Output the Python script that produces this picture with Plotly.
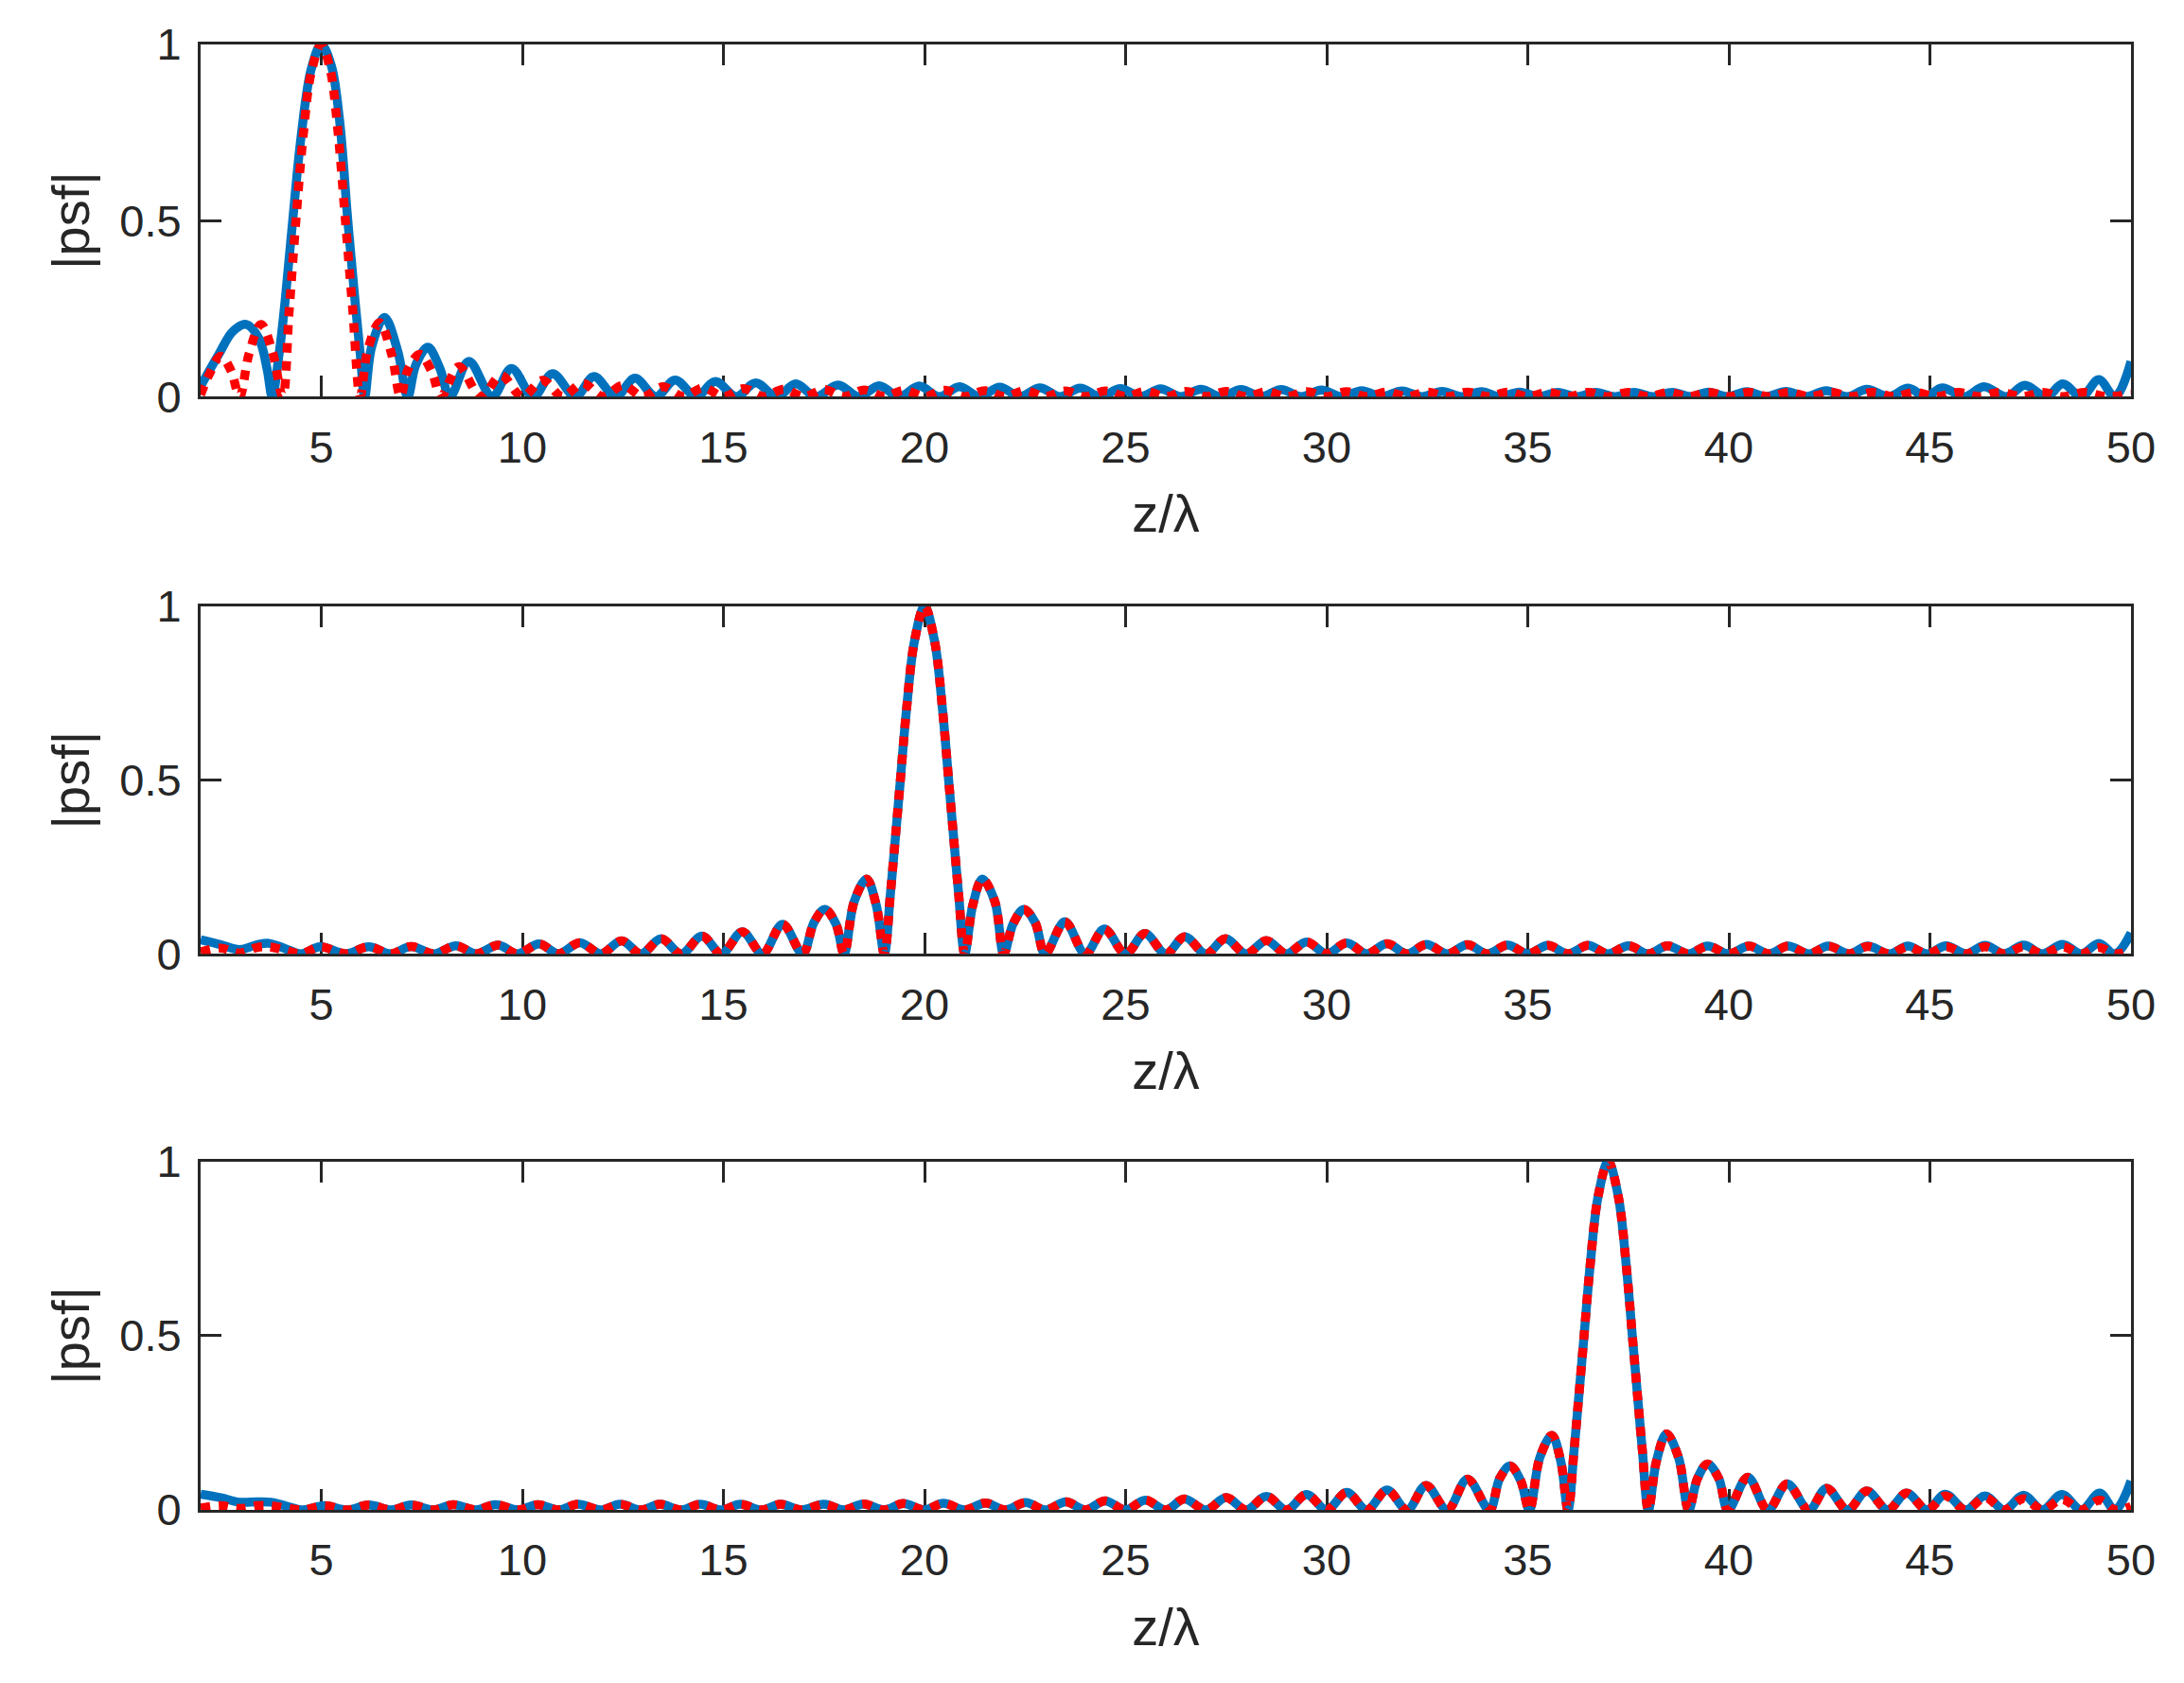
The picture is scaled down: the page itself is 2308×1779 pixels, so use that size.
import plotly.graph_objects as go

# ---------------- data (z/lambda, |psf|) ----------------
blue_top = [
    (2.0, 0.03), (2.45, 0.12), (2.8, 0.185), (3.13, 0.205), (3.45, 0.165), (3.65, 0.08), (3.78, 0.0),
    (3.95, 0.12), (4.1, 0.27), (4.29, 0.5), (4.5, 0.74), (4.75, 0.93), (5.0, 1.0), (5.25, 0.94),
    (5.45, 0.79), (5.66, 0.5), (5.85, 0.26), (5.97, 0.12), (6.08, 0.0),
    (6.25, 0.14), (6.57, 0.225), (6.9, 0.13), (7.15, 0.0),
    (7.35, 0.09), (7.65, 0.14), (7.95, 0.08), (8.2, 0.0),
    (8.67, 0.10), (9.25, 0.0), (9.73, 0.08), (10.27, 0.0), (10.75, 0.065), (11.32, 0.0), (11.78, 0.057),
    (12.32, 0.0), (12.8, 0.052), (13.32, 0.0), (13.8, 0.047), (14.32, 0.0), (14.8, 0.043), (15.32, 0.0),
    (15.8, 0.039), (16.32, 0.0), (16.8, 0.036), (17.3, 0.0), (17.85, 0.033), (18.37, 0.0), (18.87, 0.031),
    (19.37, 0.0), (19.87, 0.03), (20.37, 0.0), (20.87, 0.028), (21.37, 0.0), (21.87, 0.027), (22.37, 0.0),
    (22.87, 0.025), (23.37, 0.0), (23.87, 0.024), (24.37, 0.0), (24.87, 0.023), (25.37, 0.0), (25.87, 0.022),
    (26.37, 0.0), (26.87, 0.021), (27.37, 0.0), (27.87, 0.02), (28.37, 0.0), (28.87, 0.02), (29.37, 0.0),
    (29.87, 0.019), (30.37, 0.0), (30.87, 0.017), (31.37, 0.0), (31.87, 0.016), (32.37, 0.0), (32.87, 0.015),
    (33.35, 0.0), (33.85, 0.014), (34.3, 0.0), (34.8, 0.013), (35.25, 0.0), (35.75, 0.012), (36.2, 0.0),
    (36.7, 0.012), (37.15, 0.0), (37.65, 0.012), (38.1, 0.0), (38.6, 0.012), (39.05, 0.0), (39.5, 0.013),
    (39.95, 0.0), (40.45, 0.014), (40.93, 0.0), (41.42, 0.015), (41.92, 0.0), (42.42, 0.017), (42.95, 0.0),
    (43.43, 0.021), (43.97, 0.0), (44.46, 0.024), (44.9, 0.0), (45.3, 0.025), (45.87, 0.0), (46.34, 0.028),
    (46.9, 0.0), (47.36, 0.032), (47.9, 0.0), (48.3, 0.036), (48.77, 0.0), (49.2, 0.048), (49.6, 0.0),
    (50.0, 0.1),
]

red_top = [
    (2.0, 0.005), (2.2, 0.06), (2.5, 0.115), (2.75, 0.075), (2.97, 0.0), (3.2, 0.12), (3.5, 0.205),
    (3.78, 0.13), (4.04, 0.0),
    (4.2, 0.24), (4.37, 0.5), (4.55, 0.74), (4.75, 0.92), (5.0, 1.0), (5.22, 0.93), (5.4, 0.77),
    (5.6, 0.5), (5.78, 0.25), (5.97, 0.0),
    (6.15, 0.13), (6.45, 0.21), (6.75, 0.12), (6.97, 0.0),
    (7.15, 0.075), (7.45, 0.12), (7.75, 0.07), (7.98, 0.0),
    (8.42, 0.085), (8.97, 0.0), (9.47, 0.06), (10.0, 0.0), (10.5, 0.046), (11.0, 0.0), (11.5, 0.038),
    (12.0, 0.0), (12.5, 0.032), (13.0, 0.0), (13.5, 0.028), (14.0, 0.0), (14.5, 0.025), (15.0, 0.0),
    (15.5, 0.023), (16.0, 0.0), (16.5, 0.021), (17.0, 0.0), (17.5, 0.02), (18.0, 0.0), (18.5, 0.019),
    (19.0, 0.0), (19.5, 0.018), (20.0, 0.0), (20.5, 0.018), (21.0, 0.0), (21.5, 0.017), (22.0, 0.0),
    (22.5, 0.017), (23.0, 0.0), (23.5, 0.016), (24.0, 0.0), (24.5, 0.016), (25.0, 0.0), (25.5, 0.015),
    (26.0, 0.0), (26.5, 0.015), (27.0, 0.0), (27.5, 0.015), (28.0, 0.0), (28.5, 0.014), (29.0, 0.0),
    (29.5, 0.014), (30.0, 0.0), (30.5, 0.014), (31.0, 0.0), (31.5, 0.013), (32.0, 0.0), (32.5, 0.013),
    (33.0, 0.0), (33.5, 0.013), (34.0, 0.0), (34.5, 0.013), (35.0, 0.0), (35.5, 0.012), (36.0, 0.0),
    (36.5, 0.012), (37.0, 0.0), (37.5, 0.012), (38.0, 0.0), (38.5, 0.012), (39.0, 0.0), (39.5, 0.012),
    (40.0, 0.0), (40.5, 0.012), (41.0, 0.0), (41.5, 0.012), (42.02, 0.0), (42.55, 0.012), (43.05, 0.0),
    (43.57, 0.012), (44.1, 0.0), (44.63, 0.012), (45.17, 0.0), (45.7, 0.012), (46.2, 0.0), (46.75, 0.012),
    (47.3, 0.0), (47.8, 0.012), (48.3, 0.0), (48.85, 0.012), (49.4, 0.0), (50.0, 0.008),
]

blue_mid = [
    (2.0, 0.04), (2.5, 0.026), (2.97, 0.012), (3.4, 0.026), (3.7, 0.03), (4.1, 0.015), (4.5, 0.0),
    (4.97, 0.02), (5.62, 0.0), (6.18, 0.02), (6.73, 0.0), (7.23, 0.021), (7.8, 0.0), (8.35, 0.023),
    (8.85, 0.0), (9.4, 0.025), (9.88, 0.0), (10.42, 0.028), (10.9, 0.0), (11.43, 0.032), (11.95, 0.0),
    (12.47, 0.037), (12.95, 0.0), (13.45, 0.043), (13.95, 0.0), (14.47, 0.051), (14.95, 0.0),
    (15.47, 0.063), (15.97, 0.0), (16.47, 0.085), (16.97, 0.0), (17.25, 0.09), (17.52, 0.128),
    (17.8, 0.085), (18.0, 0.0), (18.25, 0.15), (18.56, 0.215), (18.8, 0.14), (19.0, 0.0),
    (19.15, 0.17), (19.25, 0.30), (19.4, 0.5), (19.55, 0.70), (19.75, 0.90), (20.0, 1.0),
    (20.25, 0.90), (20.45, 0.70), (20.6, 0.5), (20.75, 0.30), (20.85, 0.17), (21.0, 0.0),
    (21.2, 0.14), (21.44, 0.215), (21.75, 0.15), (21.97, 0.0), (22.2, 0.085), (22.47, 0.128),
    (22.75, 0.09), (23.0, 0.0), (23.49, 0.092), (24.0, 0.0), (24.47, 0.071), (25.0, 0.0),
    (25.48, 0.058), (26.0, 0.0), (26.47, 0.049), (27.0, 0.0), (27.48, 0.043), (28.0, 0.0),
    (28.5, 0.038), (29.0, 0.0), (29.5, 0.034), (30.0, 0.0), (30.5, 0.031), (31.0, 0.0), (31.5, 0.029),
    (32.0, 0.0), (32.48, 0.027), (33.0, 0.0), (33.5, 0.026), (34.0, 0.0), (34.5, 0.025), (35.0, 0.0),
    (35.5, 0.024), (36.0, 0.0), (36.5, 0.024), (37.0, 0.0), (37.5, 0.023), (38.0, 0.0), (38.47, 0.023),
    (39.0, 0.0), (39.47, 0.022), (40.0, 0.0), (40.5, 0.022), (41.0, 0.0), (41.47, 0.022), (42.0, 0.0),
    (42.47, 0.022), (43.0, 0.0), (43.45, 0.022), (44.0, 0.0), (44.45, 0.022), (44.93, 0.0),
    (45.4, 0.023), (45.9, 0.0), (46.37, 0.024), (46.85, 0.0), (47.33, 0.025), (47.8, 0.0),
    (48.3, 0.027), (48.77, 0.0), (49.2, 0.03), (49.6, 0.0), (50.0, 0.06),
]

red_mid = [
    (2.0, 0.005), (2.5, 0.016), (2.97, 0.002), (3.4, 0.018), (3.7, 0.02), (4.1, 0.01), (4.5, 0.0),
    (4.97, 0.02), (5.62, 0.0), (6.18, 0.02), (6.73, 0.0), (7.23, 0.021), (7.8, 0.0), (8.35, 0.023),
    (8.85, 0.0), (9.4, 0.025), (9.88, 0.0), (10.42, 0.028), (10.9, 0.0), (11.43, 0.032), (11.95, 0.0),
    (12.47, 0.037), (12.95, 0.0), (13.45, 0.043), (13.95, 0.0), (14.47, 0.051), (14.95, 0.0),
    (15.47, 0.063), (15.97, 0.0), (16.47, 0.085), (16.97, 0.0), (17.25, 0.09), (17.52, 0.128),
    (17.8, 0.085), (18.0, 0.0), (18.25, 0.15), (18.56, 0.215), (18.8, 0.14), (19.0, 0.0),
    (19.15, 0.17), (19.25, 0.30), (19.4, 0.5), (19.55, 0.70), (19.75, 0.90), (20.0, 1.0),
    (20.25, 0.90), (20.45, 0.70), (20.6, 0.5), (20.75, 0.30), (20.85, 0.17), (21.0, 0.0),
    (21.2, 0.14), (21.44, 0.215), (21.75, 0.15), (21.97, 0.0), (22.2, 0.085), (22.47, 0.128),
    (22.75, 0.09), (23.0, 0.0), (23.49, 0.092), (24.0, 0.0), (24.47, 0.071), (25.0, 0.0),
    (25.48, 0.058), (26.0, 0.0), (26.47, 0.049), (27.0, 0.0), (27.48, 0.043), (28.0, 0.0),
    (28.5, 0.038), (29.0, 0.0), (29.5, 0.034), (30.0, 0.0), (30.5, 0.031), (31.0, 0.0), (31.5, 0.029),
    (32.0, 0.0), (32.48, 0.027), (33.0, 0.0), (33.5, 0.026), (34.0, 0.0), (34.5, 0.025), (35.0, 0.0),
    (35.5, 0.024), (36.0, 0.0), (36.5, 0.024), (37.0, 0.0), (37.5, 0.023), (38.0, 0.0), (38.47, 0.023),
    (39.0, 0.0), (39.47, 0.022), (40.0, 0.0), (40.5, 0.022), (41.0, 0.0), (41.47, 0.022), (42.0, 0.0),
    (42.47, 0.022), (43.0, 0.0), (43.45, 0.021), (44.0, 0.0), (44.45, 0.02), (44.93, 0.0),
    (45.4, 0.02), (45.9, 0.0), (46.37, 0.02), (46.85, 0.0), (47.33, 0.02), (47.8, 0.0),
    (48.3, 0.02), (48.77, 0.0), (49.2, 0.018), (49.6, 0.0), (50.0, 0.01),
]

blue_bot = [
    (2.0, 0.045), (2.5, 0.035), (2.97, 0.022), (3.4, 0.023), (3.75, 0.022), (4.1, 0.012), (4.55, 0.0),
    (5.07, 0.012), (5.65, 0.0), (6.18, 0.014), (6.75, 0.0), (7.23, 0.014), (7.8, 0.0), (8.28, 0.015),
    (8.85, 0.0), (9.33, 0.015), (9.9, 0.0), (10.38, 0.015), (10.9, 0.0), (11.38, 0.016), (11.95, 0.0),
    (12.43, 0.016), (12.95, 0.0), (13.42, 0.016), (13.95, 0.0), (14.42, 0.016), (14.95, 0.0),
    (15.42, 0.016), (15.95, 0.0), (16.42, 0.016), (16.94, 0.0), (17.5, 0.016), (18.0, 0.0),
    (18.48, 0.017), (19.0, 0.0), (19.47, 0.018), (20.0, 0.0), (20.47, 0.019), (21.0, 0.0),
    (21.52, 0.02), (22.0, 0.0), (22.52, 0.021), (23.0, 0.0), (23.52, 0.023), (24.0, 0.0),
    (24.49, 0.026), (25.0, 0.0), (25.49, 0.028), (26.0, 0.0), (26.46, 0.031), (27.0, 0.0),
    (27.5, 0.035), (28.0, 0.0), (28.5, 0.039), (29.0, 0.0), (29.5, 0.044), (30.0, 0.0), (30.5, 0.05),
    (31.0, 0.0), (31.5, 0.057), (32.0, 0.0), (32.47, 0.07), (33.0, 0.0), (33.5, 0.088), (34.05, 0.0),
    (34.3, 0.09), (34.56, 0.126), (34.82, 0.085), (35.04, 0.0), (35.3, 0.15), (35.6, 0.214),
    (35.82, 0.14), (36.0, 0.0),
    (36.15, 0.17), (36.25, 0.3), (36.4, 0.5), (36.55, 0.7), (36.75, 0.9), (37.0, 1.0), (37.25, 0.9),
    (37.45, 0.7), (37.6, 0.5), (37.75, 0.3), (37.85, 0.17), (38.0, 0.0),
    (38.2, 0.14), (38.45, 0.218), (38.75, 0.15), (39.0, 0.0), (39.22, 0.09), (39.47, 0.132),
    (39.75, 0.09), (39.98, 0.0), (40.47, 0.094), (40.97, 0.0), (41.45, 0.075), (41.99, 0.0),
    (42.43, 0.062), (42.95, 0.0), (43.43, 0.054), (43.95, 0.0), (44.42, 0.048), (44.93, 0.0),
    (45.38, 0.045), (45.89, 0.0), (46.37, 0.04), (46.85, 0.0), (47.33, 0.042), (47.8, 0.0),
    (48.28, 0.044), (48.77, 0.0), (49.22, 0.048), (49.6, 0.0), (50.0, 0.083),
]

red_bot = [
    (2.0, 0.005), (2.5, 0.012), (2.97, 0.004), (3.4, 0.012), (3.75, 0.012), (4.1, 0.006), (4.55, 0.0),
    (5.07, 0.012), (5.65, 0.0), (6.18, 0.014), (6.75, 0.0), (7.23, 0.014), (7.8, 0.0), (8.28, 0.015),
    (8.85, 0.0), (9.33, 0.015), (9.9, 0.0), (10.38, 0.015), (10.9, 0.0), (11.38, 0.016), (11.95, 0.0),
    (12.43, 0.016), (12.95, 0.0), (13.42, 0.016), (13.95, 0.0), (14.42, 0.016), (14.95, 0.0),
    (15.42, 0.016), (15.95, 0.0), (16.42, 0.016), (16.94, 0.0), (17.5, 0.016), (18.0, 0.0),
    (18.48, 0.017), (19.0, 0.0), (19.47, 0.018), (20.0, 0.0), (20.47, 0.019), (21.0, 0.0),
    (21.52, 0.02), (22.0, 0.0), (22.52, 0.021), (23.0, 0.0), (23.52, 0.023), (24.0, 0.0),
    (24.49, 0.026), (25.0, 0.0), (25.49, 0.028), (26.0, 0.0), (26.46, 0.031), (27.0, 0.0),
    (27.5, 0.035), (28.0, 0.0), (28.5, 0.039), (29.0, 0.0), (29.5, 0.044), (30.0, 0.0), (30.5, 0.05),
    (31.0, 0.0), (31.5, 0.057), (32.0, 0.0), (32.47, 0.07), (33.0, 0.0), (33.5, 0.088), (34.05, 0.0),
    (34.3, 0.09), (34.56, 0.126), (34.82, 0.085), (35.04, 0.0), (35.3, 0.15), (35.6, 0.214),
    (35.82, 0.14), (36.0, 0.0),
    (36.15, 0.17), (36.25, 0.3), (36.4, 0.5), (36.55, 0.7), (36.75, 0.9), (37.0, 1.0), (37.25, 0.9),
    (37.45, 0.7), (37.6, 0.5), (37.75, 0.3), (37.85, 0.17), (38.0, 0.0),
    (38.2, 0.14), (38.45, 0.218), (38.75, 0.15), (39.0, 0.0), (39.22, 0.09), (39.47, 0.132),
    (39.75, 0.09), (39.98, 0.0), (40.47, 0.094), (40.97, 0.0), (41.45, 0.075), (41.99, 0.0),
    (42.43, 0.062), (42.95, 0.0), (43.43, 0.054), (43.95, 0.0), (44.42, 0.048), (44.93, 0.0),
    (45.38, 0.04), (45.89, 0.0), (46.37, 0.035), (46.85, 0.0), (47.33, 0.032), (47.8, 0.0),
    (48.28, 0.03), (48.77, 0.0), (49.22, 0.028), (49.6, 0.0), (50.0, 0.01),
]

x_ticks = [5, 10, 15, 20, 25, 30, 35, 40, 45, 50]
x_tick_labels = ["5", "10", "15", "20", "25", "30", "35", "40", "45", "50"]
y_ticks = [0, 0.5, 1]
y_tick_labels = ["0", "0.5", "1"]
x_label = "z/λ"
y_label = "|psf|"

# ---------------- styling ----------------
BLUE = "#0072BD"
RED = "#FF0000"
AX = "#262626"
FONT = "Liberation Sans, Arial, Helvetica, sans-serif"

W, H = 2308, 1779
# the page body adds an 8px offset, so margins are shifted by 8px
ML, MR, MT, MB = 204, 64, 36, 191
y_domains = [(0.7597, 1.0), (0.3795, 0.6166), (0.0, 0.2378)]

fig = go.Figure()
panels = [(blue_top, red_top), (blue_mid, red_mid), (blue_bot, red_bot)]
for i, (bser, rser) in enumerate(panels, start=1):
    bx, by = zip(*bser)
    rx, ry = zip(*rser)
    xa = "x" if i == 1 else f"x{i}"
    ya = "y" if i == 1 else f"y{i}"
    fig.add_trace(go.Scatter(x=list(bx), y=list(by), mode="lines", xaxis=xa, yaxis=ya,
                             line=dict(color=BLUE, width=9.5, shape="spline", smoothing=1),
                             showlegend=False, hoverinfo="skip"))
    fig.add_trace(go.Scatter(x=list(rx), y=list(ry), mode="lines", xaxis=xa, yaxis=ya,
                             line=dict(color=RED, width=9.5, dash="10px,9px", shape="spline", smoothing=1),
                             showlegend=False, hoverinfo="skip"))

common_axis = dict(
    showline=True, linewidth=3, linecolor=AX, mirror="ticks",
    ticks="inside", ticklen=22, tickwidth=3, tickcolor=AX,
    showgrid=False, zeroline=False, layer="below traces",
    tickfont=dict(family=FONT, size=47, color=AX),
)

layout = dict(
    width=W, height=H, paper_bgcolor="white", plot_bgcolor="white",
    margin=dict(l=ML, r=MR, t=MT, b=MB), showlegend=False,
)
for i, dom in enumerate(y_domains, start=1):
    xk = "xaxis" if i == 1 else f"xaxis{i}"
    yk = "yaxis" if i == 1 else f"yaxis{i}"
    ya = "y" if i == 1 else f"y{i}"
    xa = "x" if i == 1 else f"x{i}"
    layout[xk] = dict(common_axis, domain=[0, 1], range=[2, 50], anchor=ya,
                      tickmode="array", tickvals=x_ticks, ticktext=x_tick_labels,
                      ticklabelstandoff=10,
                      title=dict(text=x_label, font=dict(family=FONT, size=56, color=AX), standoff=26))
    layout[yk] = dict(common_axis, domain=list(dom), range=[0, 1], anchor=xa,
                      tickmode="array", tickvals=y_ticks, ticktext=y_tick_labels,
                      ticklabelstandoff=8,
                      title=dict(text=y_label, font=dict(family=FONT, size=56, color=AX), standoff=14))

fig.update_layout(**layout)
fig.write_html("out.html")
